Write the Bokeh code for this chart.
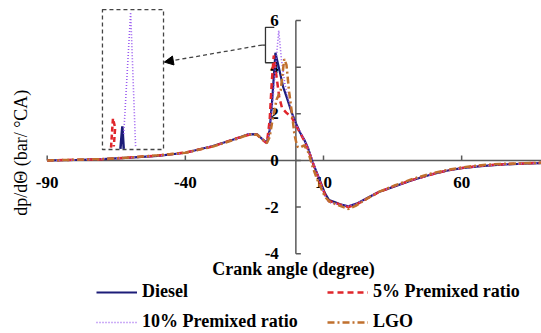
import numpy as np
from bokeh.plotting import figure
from bokeh.models import Range1d, Label, Legend, LegendItem, Arrow, NormalHead
from bokeh.core.properties import value
from bokeh.embed import file_html
from bokeh.resources import INLINE

# ---------------- data ----------------
d_angle = [-90, -80, -70, -60, -50, -40, -30, -22, -17, -14, -12, -10.5, -9.5, -8.5, -7.4, -6, -4.6,
           -3, -1.5, 0, 1.5, 3, 4.5, 6, 7.5, 9, 10.5, 12, 14, 16, 19, 22, 26, 30, 36, 42, 49,
           55, 60, 67, 74, 82, 89]
diesel = [0.0, 0.02, 0.06, 0.12, 0.2, 0.33, 0.62, 0.92, 1.13, 1.12, 0.9, 0.76, 1.3, 2.7, 4.62, 3.9, 3.15,
          2.6, 2.05, 1.6, 1.2, 0.9, 0.5, -0.05, -0.5, -0.95, -1.4, -1.7, -1.78, -1.88, -1.97, -1.85, -1.6,
          -1.35, -1.1, -0.85, -0.6, -0.43, -0.33, -0.24, -0.18, -0.14, -0.11]

r_angle = [-90, -80, -70, -60, -50, -40, -30, -22, -17, -14, -12, -10.5, -9.5, -8.7, -8, -7, -6,
           -5, -3.5, -1.5, 0, 1.5, 3, 4.5, 6, 7.5, 9, 10.5, 12, 14, 16, 19, 22, 26, 30, 36, 42,
           49, 55, 60, 67, 74, 82, 89]
premix5 = [0.0, 0.03, 0.05, 0.13, 0.21, 0.34, 0.6, 0.93, 1.1, 1.1, 0.88, 0.74, 1.7, 3.4, 4.5, 3.6, 2.7,
           2.25, 2.05, 1.85, 1.5, 1.2, 0.85, 0.45, -0.05, -0.55, -1.0, -1.45, -1.75, -1.8, -1.9, -2.0, -1.88,
           -1.62, -1.36, -1.08, -0.84, -0.6, -0.42, -0.32, -0.23, -0.17, -0.13, -0.1]

p_angle = [-90, -80, -70, -60, -50, -40, -30, -22, -17, -14, -12, -10.5, -9.5, -8.3, -7.2, -6.2, -5.2,
           -4, -2.5, -1, 0, 1.5, 3, 4.5, 6, 7.5, 9, 10.5, 12, 14, 16, 19, 22, 26, 30, 36, 42,
           49, 55, 60, 67, 74, 82, 89]
premix10 = [0.0, 0.02, 0.07, 0.12, 0.2, 0.32, 0.63, 0.9, 1.14, 1.1, 0.92, 0.72, 1.2, 2.6, 4.2, 5.57, 4.3,
            3.3, 2.5, 1.9, 1.55, 1.25, 0.9, 0.5, 0.0, -0.5, -1.0, -1.5, -1.8, -1.85, -1.9, -1.95, -1.85,
            -1.6, -1.34, -1.1, -0.86, -0.6, -0.43, -0.33, -0.24, -0.18, -0.14, -0.11]

l_angle = [-90, -80, -70, -60, -50, -40, -30, -22, -17, -14, -12, -10.5, -9.5, -8.5, -7, -5.5, -4.2,
           -3.4, -2.5, -1.5, -0.5, 0.5, 1.5, 3, 4.5, 6, 7.5, 9, 10.5, 12, 14, 16, 19, 22, 26, 30,
           36, 42, 49, 55, 60, 67, 74, 82, 89]
lgo = [0.0, 0.03, 0.06, 0.13, 0.22, 0.33, 0.6, 0.9, 1.12, 1.1, 0.9, 0.75, 1.0, 1.7, 2.6, 3.0, 4.35,
       4.1, 3.0, 2.1, 1.1, 0.6, 0.55, 0.65, 0.35, -0.25, -0.75, -1.15, -1.55, -1.75, -1.85, -1.95,
       -2.08, -1.92, -1.62, -1.35, -1.06, -0.8, -0.56, -0.4, -0.3, -0.2, -0.15, -0.12, -0.1]

# zoomed inset of the peaks (in main-axis units)
inset_box_x = [-70.0, -47.9]
inset_box_y = [0.47, 6.47]
inset_red_x = [-66.9, -66.2, -65.4, -65.9]
inset_red_y = [0.55, 1.8, 1.4, 0.6]
inset_diesel_x = [-63.5, -62.8, -62.3]
inset_diesel_y = [0.5, 1.46, 0.5]
inset_purple_x = [-62.3, -59.8, -58.0]
inset_purple_y = [1.14, 6.36, 0.57]

# bracket around the peak region and arrow to inset
bracket_x = [-11.0, -7.8]
bracket_y = [4.19, 5.71]

x_ticks = [-90, -40, 10, 60]
x_tick_labels = ["-90", "-40", "10", "60"]
y_ticks = [6, 4, 2, 0, -2, -4]
y_tick_labels = ["6", "4", "2", "0", "-2", "-4"]

series_labels = ["Diesel", "5% Premixed ratio", "10% Premixed ratio", "LGO"]

# ---------------- figure ----------------
W, H = 541, 333
X_MIN, X_MAX = -106.9, 88.9
Y_MIN, Y_MAX = -7.42, 6.86
XU = (X_MAX - X_MIN) / W   # data units per pixel
YU = (Y_MAX - Y_MIN) / H

p = figure(width=W, height=H, x_range=Range1d(X_MIN, X_MAX), y_range=Range1d(Y_MIN, Y_MAX),
           min_border=0, toolbar_location=None, output_backend="svg",
           x_axis_location=None, y_axis_location=None)
p.grid.visible = False
p.outline_line_color = None
p.background_fill_color = "white"

AX = "#5a5a5a"
SERIF = "Liberation Serif"

# axes (drawn at x=0 / y=0)
p.segment(x0=[x_ticks[0]], y0=[0], x1=[X_MAX], y1=[0], line_color=AX, line_width=1.5)
p.segment(x0=x_ticks, y0=[0] * len(x_ticks), x1=x_ticks, y1=[5 * YU] * len(x_ticks),
          line_color=AX, line_width=1.5)
p.segment(x0=[0], y0=[y_ticks[-1]], x1=[0], y1=[y_ticks[0]], line_color=AX, line_width=1.5)
p.segment(x0=[0] * len(y_ticks), y0=y_ticks, x1=[5 * XU] * len(y_ticks), y1=y_ticks,
          line_color=AX, line_width=1.5)

p.text(x=x_ticks, y=[0] * len(x_ticks), text=x_tick_labels, y_offset=22,
       text_align="center", text_baseline="middle", text_font=value(SERIF),
       text_font_style="bold", text_font_size="17px", text_color="black")
p.text(x=[0] * len(y_ticks), y=y_ticks, text=y_tick_labels, x_offset=-17,
       text_align="right", text_baseline="middle", text_font=value(SERIF),
       text_font_style="bold", text_font_size="17px", text_color="black")

# inset
p.quad(left=[inset_box_x[0]], right=[inset_box_x[1]], bottom=[inset_box_y[0]], top=[inset_box_y[1]],
       fill_color=None, line_color="#444444", line_width=1.3, line_dash="4 3")
p.line(inset_red_x, inset_red_y, line_color="#e0262b", line_width=2.5, line_dash="5 3")
p.line(inset_diesel_x, inset_diesel_y, line_color="#1c1c78", line_width=2.5)
p.line(inset_purple_x, inset_purple_y, line_color="#9a5cf0", line_width=1.6, line_dash="1 2")

# bracket and arrow
p.multi_line(xs=[[bracket_x[1], bracket_x[0], bracket_x[0], bracket_x[1]],
                 [bracket_x[0], bracket_x[0] - 1.2]],
             ys=[[bracket_y[1], bracket_y[1], bracket_y[0], bracket_y[0]],
                 [(bracket_y[0] + bracket_y[1]) / 2, (bracket_y[0] + bracket_y[1]) / 2]],
             line_color="#333333", line_width=1.3)
p.add_layout(Arrow(x_start=bracket_x[0] - 1.2, y_start=(bracket_y[0] + bracket_y[1]) / 2,
                   x_end=inset_box_x[1] + 0.3, y_end=4.22,
                   line_color="#444444", line_width=1.3, line_dash="4 3",
                   end=NormalHead(size=9, fill_color="black", line_color="black")))

# series
r_d = p.line(d_angle, diesel, line_color="#1c1c78", line_width=2.2)
r_r = p.line(r_angle, premix5, line_color="#e0262b", line_width=2.5, line_dash="6 4")
r_p = p.line(p_angle, premix10, line_color="#9a5cf0", line_width=1.6, line_dash="1 2")
r_l = p.line(l_angle, lgo, line_color="#c0702e", line_width=2.5, line_dash="7 3 2 3")

# axis titles
p.add_layout(Label(x=20, y=H - 150, x_units="screen", y_units="screen",
                   text="dp/dΘ  (bar/ °CA)", angle=np.pi / 2, text_align="center",
                   text_baseline="middle", text_font=SERIF, text_font_size="18px",
                   text_color="black"))
p.add_layout(Label(x=293, y=H - 268, x_units="screen", y_units="screen",
                   text="Crank angle (degree)", text_align="center", text_baseline="middle",
                   text_font=SERIF, text_font_style="bold", text_font_size="18px",
                   text_color="black"))

# legends (2 x 2 grid)
positions = [(96, 31), (327, 31), (96, 1), (327, 1)]
for rend, lab, pos in zip([r_d, r_r, r_p, r_l], series_labels, positions):
    leg = Legend(items=[LegendItem(label=lab, renderers=[rend])], location=pos,
                 glyph_width=41, glyph_height=20, label_height=20, label_standoff=5,
                 padding=0, margin=0, spacing=0, border_line_color=None,
                 background_fill_alpha=0, label_text_font=SERIF,
                 label_text_font_style="bold", label_text_font_size="18px",
                 label_text_color="black")
    p.add_layout(leg, "center")

open("out.html", "w").write(file_html(p, INLINE))
